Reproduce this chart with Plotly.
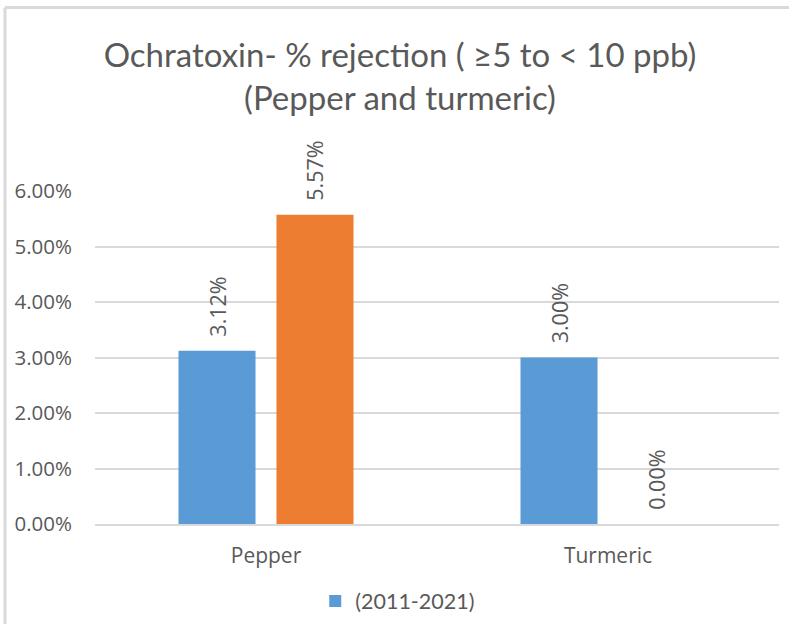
import plotly.graph_objects as go

categories = ["Pepper", "Turmeric"]
series_blue_name = "(2011-2021)"
series_blue = [0.0312, 0.0300]
series_orange_name = ""
series_orange = [0.0557, 0.0000]
y_ticks = [0.00, 0.01, 0.02, 0.03, 0.04, 0.05, 0.06]

TXT = "#595959"
GRID = "#d9d9d9"


def labels(vals):
    return ["\u00a0\u00a0" + f"{v*100:.2f}%" for v in vals]


fig = go.Figure()
fig.add_trace(go.Bar(
    x=categories, y=series_blue, name=series_blue_name,
    marker=dict(color="#5b9bd5", line=dict(width=0)),
    text=labels(series_blue),
    textposition="outside", textangle=-90, cliponaxis=False, constraintext="none",
    textfont=dict(family="Open Sans", size=21.5, color=TXT),
    showlegend=True,
))
fig.add_trace(go.Bar(
    x=categories, y=series_orange, name=series_orange_name,
    marker=dict(color="#ed7d31", line=dict(width=0)),
    text=labels(series_orange),
    textposition="outside", textangle=-90, cliponaxis=False, constraintext="none",
    textfont=dict(family="Open Sans", size=21.5, color=TXT),
    showlegend=False,
))

fig.update_layout(
    width=789, height=624,
    margin=dict(l=95, r=10, t=191, b=100, autoexpand=False),
    paper_bgcolor="white", plot_bgcolor="white",
    barmode="group", bargap=0.427, bargroupgap=0.214,
    title=dict(
        text="Ochratoxin- % rejection ( ≥5 to < 10 ppb)<br>(Pepper and turmeric)",
        x=0.507, xanchor="center", xref="container", y=0.892, yanchor="middle",
        font=dict(family="Lato", size=33, color=TXT),
    ),
    xaxis=dict(
        range=[-0.5, 1.5], showgrid=False, showline=True, linecolor=GRID, linewidth=2,
        ticks="", ticklabelstandoff=12,
        tickfont=dict(family="Open Sans", size=21, color=TXT),
    ),
    yaxis=dict(
        range=[0, 0.06], tickvals=y_ticks, tickformat=".2%",
        showgrid=True, gridcolor=GRID, gridwidth=2, zeroline=False, showline=False,
        ticks="", ticklabelstandoff=22,
        tickfont=dict(family="Open Sans", size=20.5, color=TXT),
    ),
    legend=dict(
        orientation="h", x=0.322, xanchor="left", y=-0.231, yanchor="middle",
        font=dict(family="Lato", size=21.5, color=TXT),
    ),
    shapes=[
        dict(type="line", xref="paper", yref="paper", x0=-0.1316, x1=-0.1316, y0=-0.32, y1=1.551,
             line=dict(color=GRID, width=3)),
        dict(type="line", xref="paper", yref="paper", x0=-0.1316, x1=1.05, y0=1.551, y1=1.551,
             line=dict(color=GRID, width=3)),
    ],
)

fig.write_html(
    "out.html",
    config={"displayModeBar": False},
    post_script="document.body.style.margin='0';document.body.style.overflow='hidden';",
)
